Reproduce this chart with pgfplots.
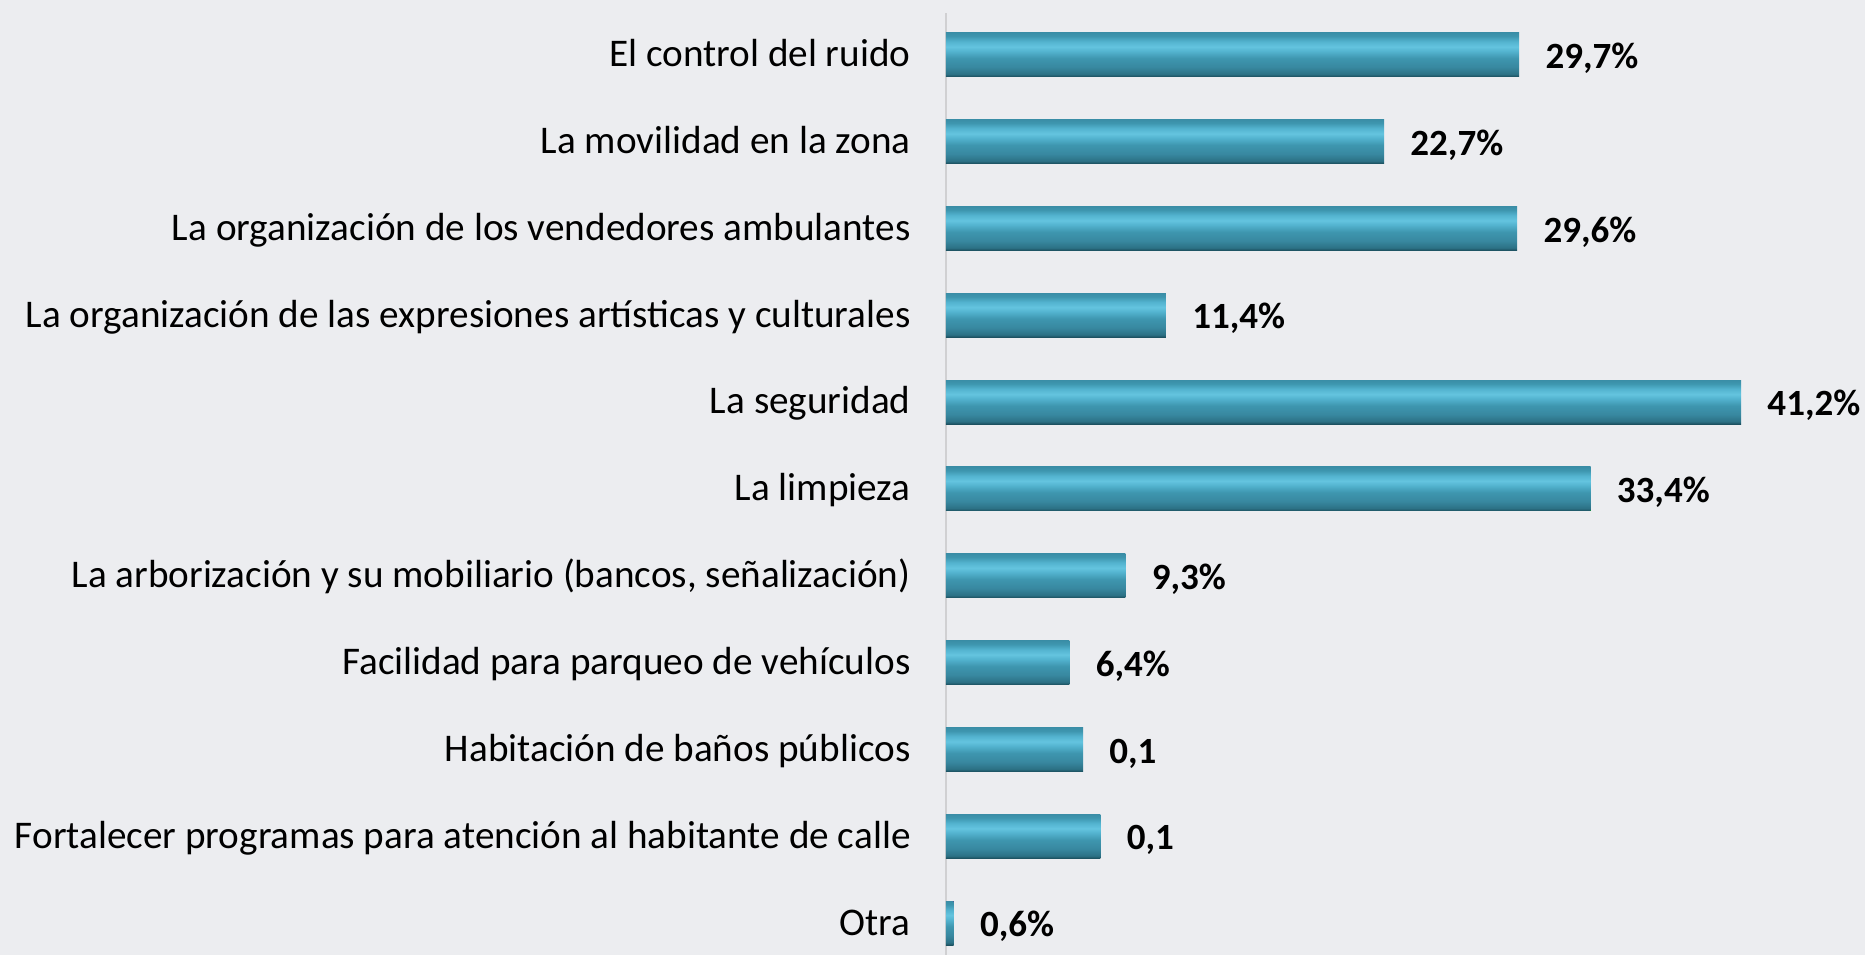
\documentclass[border=0pt]{standalone}
\usepackage{pgfplots}
\pgfplotsset{compat=1.18}
\usepackage{fontspec}
\setmainfont{Carlito}
\definecolor{bg}{RGB}{236,237,240}
\definecolor{axgray}{RGB}{208,208,210}
\definecolor{b1}{HTML}{1B4F5E}
\definecolor{b2}{HTML}{2C7185}
\definecolor{b3}{HTML}{3888A0}
\definecolor{b4}{HTML}{3E96AF}
\definecolor{b5}{HTML}{53B3CF}
\definecolor{b6}{HTML}{64C4DF}
\definecolor{b7}{HTML}{3A8EA7}
\pgfdeclareverticalshading{barshade}{100bp}{color(0bp)=(b1); color(25bp)=(b1); color(28bp)=(b2); color(36bp)=(b3); color(46bp)=(b4); color(54bp)=(b5); color(59bp)=(b6); color(65bp)=(b5); color(71bp)=(b4); color(75bp)=(b7); color(100bp)=(b7)}
\begin{document}
\begin{tikzpicture}
\fill[bg] (-473pt,0) rectangle (459.5pt,477.5pt);
\begin{axis}[
  at={(0,0)}, anchor=south west,
  scale only axis,
  width=459.5pt, height=477.5pt,
  xmin=0, xmax=47.62,
  ymin=-0.6298, ymax=10.366,
  y dir=reverse,
  enlargelimits=false,
  clip=false,
  axis line style={draw=none},
  major tick length=0pt,
  xtick=\empty,
  ytick={0,1,2,3,4,5,6,7,8,9,10},
  yticklabels={El control del ruido,
    La movilidad en la zona,
    La organización de los vendedores ambulantes,
    La organización de las expresiones artísticas y culturales,
    La seguridad,
    La limpieza,
    {La arborización y su mobiliario (bancos, señalización)},
    Facilidad para parqueo de vehículos,
    Habitación de baños públicos,
    Fortalecer programas para atención al habitante de calle,
    Otra},
  yticklabel style={font=\fontsize{19.6}{23}\selectfont, inner sep=0pt, anchor=base east, xshift=-17.5pt, yshift=-5.9pt, text=black},
  xbar, bar width=22pt, bar shift=0pt,
  point meta=explicit symbolic,
  nodes near coords,
  nodes near coords style={font=\fontsize{18.5}{22}\selectfont\bfseries, text=black, inner sep=0pt, anchor=base west, xshift=13pt, yshift=-6.8pt},
  every axis plot/.append style={draw=none, shading=barshade},
]
\draw[axgray, line width=1pt] (axis cs:0,-0.48) -- (axis cs:0,10.366);
\addplot coordinates {(29.7,0) [29,7\%]};
\addplot coordinates {(22.7,1) [22,7\%]};
\addplot coordinates {(29.6,2) [29,6\%]};
\addplot coordinates {(11.4,3) [11,4\%]};
\addplot coordinates {(41.2,4) [41,2\%]};
\addplot coordinates {(33.4,5) [33,4\%]};
\addplot coordinates {(9.3,6) [9,3\%]};
\addplot coordinates {(6.4,7) [6,4\%]};
\addplot coordinates {(7.1,8) [0,1]};
\addplot coordinates {(8.0,9) [0,1]};
\addplot coordinates {(0.4,10) [0,6\%]};
\end{axis}
\pgfresetboundingbox
\path[use as bounding box] (-473pt,0) rectangle (459.5pt,477.5pt);
\end{tikzpicture}
\end{document}
